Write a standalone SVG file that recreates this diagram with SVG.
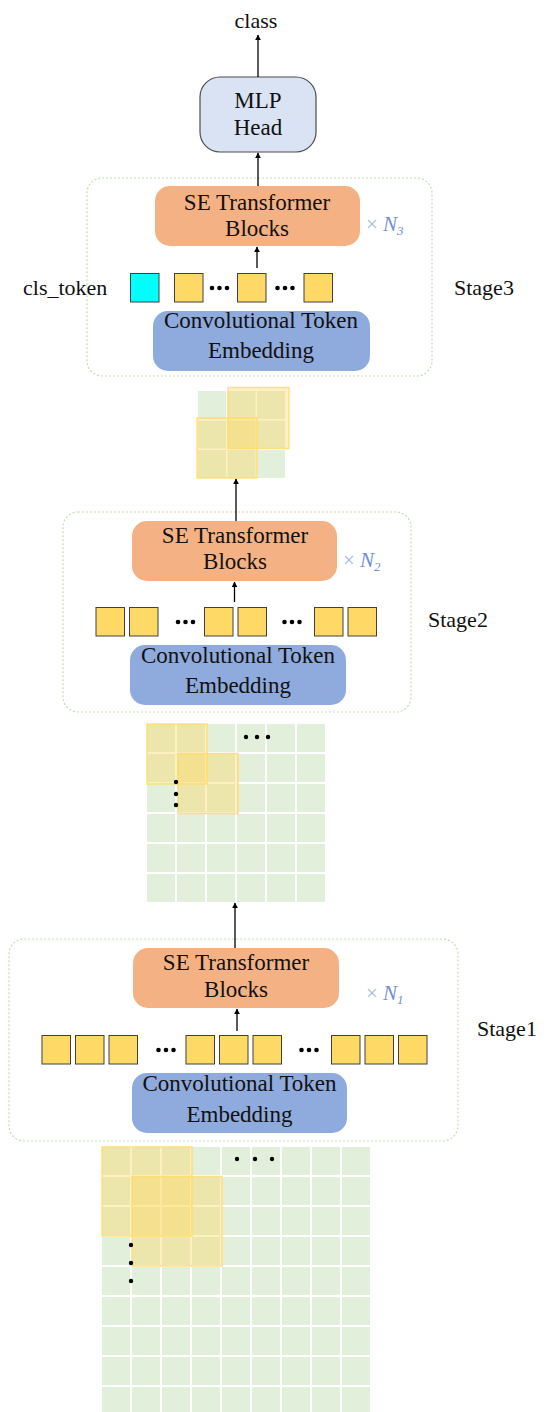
<svg xmlns="http://www.w3.org/2000/svg" width="553" height="1412" viewBox="0 0 553 1412">
  <style>
    .lbl { font-family: "Liberation Serif", "Times New Roman", serif; font-size: 23px; fill: #111; text-anchor: middle; }
    .side { font-family: "Liberation Serif", "Times New Roman", serif; font-size: 22px; fill: #111; }
    .rep { font-family: "Liberation Serif", "Times New Roman", serif; font-size: 21px; fill: #6f8fd6; }
    .times { fill: #a7bbe6; }
    .stage { fill: none; stroke: #c5dcb5; stroke-width: 1.2; stroke-dasharray: 2 2; }
    .se { fill: #f4b183; }
    .cte { fill: #8faadc; }
    .tok { fill: #ffd966; stroke: #404040; stroke-width: 1; }
    .cls { fill: #00ffff; stroke: #404040; stroke-width: 1; }
    .cell { fill: #e2efda; }
    .win { fill: #ffd966; fill-opacity: 0.4; stroke: #ffd966; stroke-opacity: 0.8; stroke-width: 1.5; }
    .dot { fill: #000; }
    .conn { stroke: #000; stroke-width: 1.3; fill: none; marker-end: url(#arrow); }
  </style>
  <defs>
    <marker id="arrow" viewBox="0 0 10 10" refX="9" refY="5" markerWidth="6" markerHeight="6" orient="auto" markerUnits="userSpaceOnUse">
      <path d="M0,0 L10,5 L0,10 z" fill="#000"/>
    </marker>
    <g id="dots3">
      <circle class="dot" cx="-7.5" cy="0" r="2.3"/>
      <circle class="dot" cx="0" cy="0" r="2.3"/>
      <circle class="dot" cx="7.5" cy="0" r="2.3"/>
    </g>
  </defs>

  <rect width="553" height="1412" fill="#fff"/>

  <!-- output label -->
  <g id="class-label">
    <text class="lbl" x="256" y="28" style="font-size:22px">class</text>
  </g>

  <!-- classification head -->
  <g id="mlp-head">
    <rect x="200" y="77" width="116" height="75" rx="20" fill="#dae3f3" stroke="#4d4d4d" stroke-width="1.2"/>
    <text class="lbl" x="258" y="108">MLP</text>
    <text class="lbl" x="258" y="135">Head</text>
  </g>

  <!-- Stage 3 -->
  <g id="stage3">
    <rect class="stage" x="87" y="178" width="345" height="198" rx="15"/>
    <rect class="se" x="155" y="186" width="205" height="60" rx="15"/>
    <text class="lbl" x="257" y="210">SE Transformer</text>
    <text class="lbl" x="257" y="236">Blocks</text>
    <text class="rep" x="366" y="231"><tspan class="times">×</tspan> <tspan font-style="italic">N</tspan><tspan font-style="italic" font-size="13" dy="4">3</tspan></text>
    <text class="side" x="23" y="295">cls_token</text>
    <rect class="cls" x="130.5" y="273.5" width="28.5" height="28.5"/>
    <rect class="tok" x="174.5" y="273.5" width="28.5" height="28.5"/>
    <use href="#dots3" x="219.5" y="288"/>
    <rect class="tok" x="237.5" y="273.5" width="28.5" height="28.5"/>
    <use href="#dots3" x="285" y="288"/>
    <rect class="tok" x="304" y="273.5" width="28.5" height="28.5"/>
    <rect class="cte" x="153" y="311" width="217" height="60" rx="15"/>
    <text class="lbl" x="261" y="328">Convolutional Token</text>
    <text class="lbl" x="261" y="358">Embedding</text>
    <text class="side" x="454" y="295">Stage3</text>
  </g>

  <!-- token map after Stage 2 -->
  <g id="map2">
    <rect class="cell" x="198" y="391" width="28" height="28"/>
    <rect class="cell" x="227.5" y="391" width="28" height="28"/>
    <rect class="cell" x="257" y="391" width="28" height="28"/>
    <rect class="cell" x="198" y="420.5" width="28" height="28"/>
    <rect class="cell" x="227.5" y="420.5" width="28" height="28"/>
    <rect class="cell" x="257" y="420.5" width="28" height="28"/>
    <rect class="cell" x="198" y="450" width="28" height="28"/>
    <rect class="cell" x="227.5" y="450" width="28" height="28"/>
    <rect class="cell" x="257" y="450" width="28" height="28"/>
    <rect class="win" x="228" y="387.5" width="61" height="61"/>
    <rect class="win" x="197" y="418" width="60" height="60"/>
  </g>

  <!-- Stage 2 -->
  <g id="stage2">
    <rect class="stage" x="63" y="512" width="348" height="200" rx="15"/>
    <rect class="se" x="132" y="521" width="205" height="60" rx="15"/>
    <text class="lbl" x="235" y="543">SE Transformer</text>
    <text class="lbl" x="235" y="569">Blocks</text>
    <text class="rep" x="343" y="567"><tspan class="times">×</tspan> <tspan font-style="italic">N</tspan><tspan font-style="italic" font-size="13" dy="4">2</tspan></text>
    <rect class="tok" x="96" y="607.5" width="28.5" height="28.5"/>
    <rect class="tok" x="129.5" y="607.5" width="28.5" height="28.5"/>
    <use href="#dots3" x="185.5" y="622"/>
    <rect class="tok" x="204.5" y="607.5" width="28.5" height="28.5"/>
    <rect class="tok" x="238" y="607.5" width="28.5" height="28.5"/>
    <use href="#dots3" x="292" y="622"/>
    <rect class="tok" x="314.5" y="607.5" width="28.5" height="28.5"/>
    <rect class="tok" x="348" y="607.5" width="28.5" height="28.5"/>
    <rect class="cte" x="130" y="645" width="216" height="60" rx="15"/>
    <text class="lbl" x="238" y="663">Convolutional Token</text>
    <text class="lbl" x="238" y="693">Embedding</text>
    <text class="side" x="428" y="627">Stage2</text>
  </g>

  <!-- token map after Stage 1 (6 x 6) -->
  <g id="map1">
    <g class="cell">
      <rect x="147" y="724" width="28" height="28"/><rect x="177" y="724" width="28" height="28"/><rect x="207" y="724" width="28" height="28"/><rect x="237" y="724" width="28" height="28"/><rect x="267" y="724" width="28" height="28"/><rect x="297" y="724" width="28" height="28"/>
      <rect x="147" y="754" width="28" height="28"/><rect x="177" y="754" width="28" height="28"/><rect x="207" y="754" width="28" height="28"/><rect x="237" y="754" width="28" height="28"/><rect x="267" y="754" width="28" height="28"/><rect x="297" y="754" width="28" height="28"/>
      <rect x="147" y="784" width="28" height="28"/><rect x="177" y="784" width="28" height="28"/><rect x="207" y="784" width="28" height="28"/><rect x="237" y="784" width="28" height="28"/><rect x="267" y="784" width="28" height="28"/><rect x="297" y="784" width="28" height="28"/>
      <rect x="147" y="814" width="28" height="28"/><rect x="177" y="814" width="28" height="28"/><rect x="207" y="814" width="28" height="28"/><rect x="237" y="814" width="28" height="28"/><rect x="267" y="814" width="28" height="28"/><rect x="297" y="814" width="28" height="28"/>
      <rect x="147" y="844" width="28" height="28"/><rect x="177" y="844" width="28" height="28"/><rect x="207" y="844" width="28" height="28"/><rect x="237" y="844" width="28" height="28"/><rect x="267" y="844" width="28" height="28"/><rect x="297" y="844" width="28" height="28"/>
      <rect x="147" y="874" width="28" height="28"/><rect x="177" y="874" width="28" height="28"/><rect x="207" y="874" width="28" height="28"/><rect x="237" y="874" width="28" height="28"/><rect x="267" y="874" width="28" height="28"/><rect x="297" y="874" width="28" height="28"/>
    </g>
    <rect class="win" x="147" y="724" width="60" height="60"/>
    <rect class="win" x="178" y="753.5" width="60" height="60"/>
    <circle class="dot" cx="246" cy="737" r="2.2"/>
    <circle class="dot" cx="257" cy="737" r="2.2"/>
    <circle class="dot" cx="268" cy="737" r="2.2"/>
    <circle class="dot" cx="176" cy="782" r="2.2"/>
    <circle class="dot" cx="176" cy="794" r="2.2"/>
    <circle class="dot" cx="176" cy="805" r="2.2"/>
  </g>

  <!-- Stage 1 -->
  <g id="stage1">
    <rect class="stage" x="9" y="939" width="449" height="202" rx="15"/>
    <rect class="se" x="133" y="948" width="206" height="60" rx="15"/>
    <text class="lbl" x="236" y="970">SE Transformer</text>
    <text class="lbl" x="236" y="997">Blocks</text>
    <text class="rep" x="366" y="1000"><tspan class="times">×</tspan> <tspan font-style="italic">N</tspan><tspan font-style="italic" font-size="13" dy="4">1</tspan></text>
    <rect class="tok" x="42" y="1035.5" width="28.5" height="28.5"/>
    <rect class="tok" x="75.5" y="1035.5" width="28.5" height="28.5"/>
    <rect class="tok" x="109" y="1035.5" width="28.5" height="28.5"/>
    <use href="#dots3" x="166" y="1050"/>
    <rect class="tok" x="186" y="1035.5" width="28.5" height="28.5"/>
    <rect class="tok" x="219.5" y="1035.5" width="28.5" height="28.5"/>
    <rect class="tok" x="253" y="1035.5" width="28.5" height="28.5"/>
    <use href="#dots3" x="309" y="1050"/>
    <rect class="tok" x="331.5" y="1035.5" width="28.5" height="28.5"/>
    <rect class="tok" x="365" y="1035.5" width="28.5" height="28.5"/>
    <rect class="tok" x="398.5" y="1035.5" width="28.5" height="28.5"/>
    <rect class="cte" x="132" y="1073" width="215" height="60" rx="15"/>
    <text class="lbl" x="239.5" y="1091">Convolutional Token</text>
    <text class="lbl" x="239.5" y="1122">Embedding</text>
    <text class="side" x="477" y="1036">Stage1</text>
  </g>

  <!-- input image patches (9 x 9) -->
  <g id="input-map">
    <g class="cell">
      <rect x="102" y="1147" width="28" height="28"/><rect x="132" y="1147" width="28" height="28"/><rect x="162" y="1147" width="28" height="28"/><rect x="192" y="1147" width="28" height="28"/><rect x="222" y="1147" width="28" height="28"/><rect x="252" y="1147" width="28" height="28"/><rect x="282" y="1147" width="28" height="28"/><rect x="312" y="1147" width="28" height="28"/><rect x="342" y="1147" width="28" height="28"/>
      <rect x="102" y="1177" width="28" height="28"/><rect x="132" y="1177" width="28" height="28"/><rect x="162" y="1177" width="28" height="28"/><rect x="192" y="1177" width="28" height="28"/><rect x="222" y="1177" width="28" height="28"/><rect x="252" y="1177" width="28" height="28"/><rect x="282" y="1177" width="28" height="28"/><rect x="312" y="1177" width="28" height="28"/><rect x="342" y="1177" width="28" height="28"/>
      <rect x="102" y="1207" width="28" height="28"/><rect x="132" y="1207" width="28" height="28"/><rect x="162" y="1207" width="28" height="28"/><rect x="192" y="1207" width="28" height="28"/><rect x="222" y="1207" width="28" height="28"/><rect x="252" y="1207" width="28" height="28"/><rect x="282" y="1207" width="28" height="28"/><rect x="312" y="1207" width="28" height="28"/><rect x="342" y="1207" width="28" height="28"/>
      <rect x="102" y="1237" width="28" height="28"/><rect x="132" y="1237" width="28" height="28"/><rect x="162" y="1237" width="28" height="28"/><rect x="192" y="1237" width="28" height="28"/><rect x="222" y="1237" width="28" height="28"/><rect x="252" y="1237" width="28" height="28"/><rect x="282" y="1237" width="28" height="28"/><rect x="312" y="1237" width="28" height="28"/><rect x="342" y="1237" width="28" height="28"/>
      <rect x="102" y="1267" width="28" height="28"/><rect x="132" y="1267" width="28" height="28"/><rect x="162" y="1267" width="28" height="28"/><rect x="192" y="1267" width="28" height="28"/><rect x="222" y="1267" width="28" height="28"/><rect x="252" y="1267" width="28" height="28"/><rect x="282" y="1267" width="28" height="28"/><rect x="312" y="1267" width="28" height="28"/><rect x="342" y="1267" width="28" height="28"/>
      <rect x="102" y="1297" width="28" height="28"/><rect x="132" y="1297" width="28" height="28"/><rect x="162" y="1297" width="28" height="28"/><rect x="192" y="1297" width="28" height="28"/><rect x="222" y="1297" width="28" height="28"/><rect x="252" y="1297" width="28" height="28"/><rect x="282" y="1297" width="28" height="28"/><rect x="312" y="1297" width="28" height="28"/><rect x="342" y="1297" width="28" height="28"/>
      <rect x="102" y="1327" width="28" height="28"/><rect x="132" y="1327" width="28" height="28"/><rect x="162" y="1327" width="28" height="28"/><rect x="192" y="1327" width="28" height="28"/><rect x="222" y="1327" width="28" height="28"/><rect x="252" y="1327" width="28" height="28"/><rect x="282" y="1327" width="28" height="28"/><rect x="312" y="1327" width="28" height="28"/><rect x="342" y="1327" width="28" height="28"/>
      <rect x="102" y="1357" width="28" height="28"/><rect x="132" y="1357" width="28" height="28"/><rect x="162" y="1357" width="28" height="28"/><rect x="192" y="1357" width="28" height="28"/><rect x="222" y="1357" width="28" height="28"/><rect x="252" y="1357" width="28" height="28"/><rect x="282" y="1357" width="28" height="28"/><rect x="312" y="1357" width="28" height="28"/><rect x="342" y="1357" width="28" height="28"/>
      <rect x="102" y="1387" width="28" height="25"/><rect x="132" y="1387" width="28" height="25"/><rect x="162" y="1387" width="28" height="25"/><rect x="192" y="1387" width="28" height="25"/><rect x="222" y="1387" width="28" height="25"/><rect x="252" y="1387" width="28" height="25"/><rect x="282" y="1387" width="28" height="25"/><rect x="312" y="1387" width="28" height="25"/><rect x="342" y="1387" width="28" height="25"/>
    </g>
    <rect class="win" x="102" y="1147" width="90" height="89"/>
    <rect class="win" x="132" y="1176.5" width="90" height="89.5"/>
    <circle class="dot" cx="237" cy="1159" r="2.2"/>
    <circle class="dot" cx="255" cy="1159" r="2.2"/>
    <circle class="dot" cx="272" cy="1159" r="2.2"/>
    <circle class="dot" cx="131" cy="1245" r="2.2"/>
    <circle class="dot" cx="131" cy="1263" r="2.2"/>
    <circle class="dot" cx="131" cy="1281" r="2.2"/>
  </g>

  <!-- connectors -->
  <g id="connectors">
    <line class="conn" x1="258" y1="77" x2="258" y2="35"/>
    <line class="conn" x1="258" y1="186" x2="258" y2="153"/>
    <line class="conn" x1="257" y1="268" x2="257" y2="247"/>
    <line class="conn" x1="236" y1="521" x2="236" y2="479"/>
    <line class="conn" x1="234.5" y1="602" x2="234.5" y2="582"/>
    <line class="conn" x1="235" y1="948" x2="235" y2="903"/>
    <line class="conn" x1="237" y1="1031" x2="237" y2="1009"/>
  </g>
</svg>
